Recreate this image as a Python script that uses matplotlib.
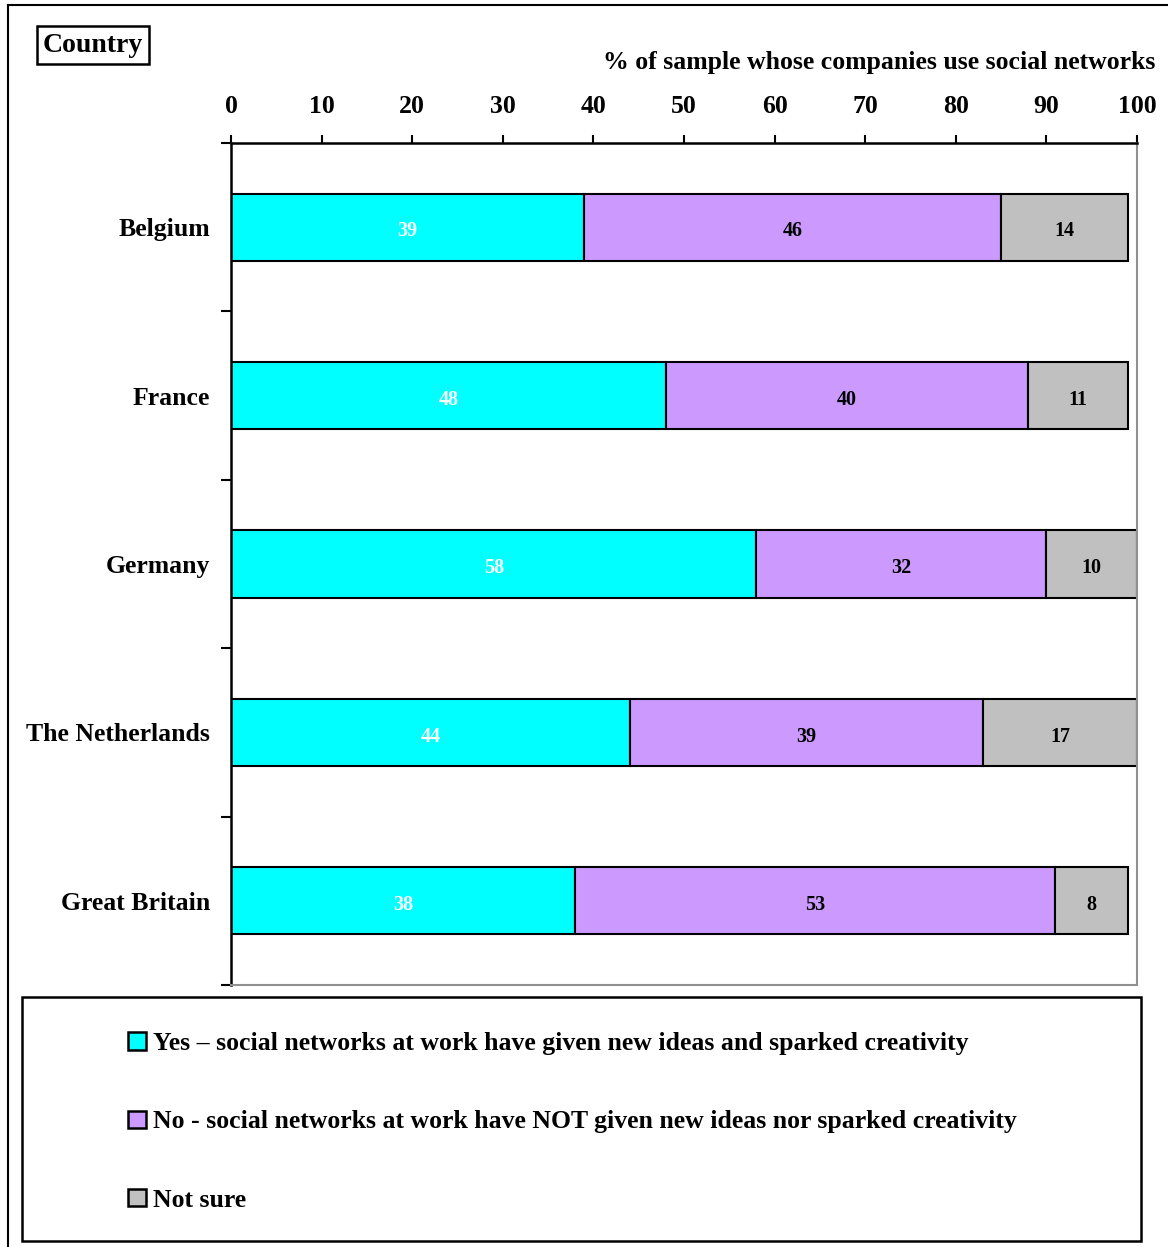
import numpy as np
import matplotlib.pyplot as plt
from matplotlib.patches import Rectangle, Patch
from matplotlib.lines import Line2D

plt.rcParams['font.family'] = ['Liberation Serif', 'DejaVu Serif']
plt.rcParams['font.weight'] = 'bold'

countries = ['Belgium', 'France', 'Germany', 'The Netherlands', 'Great Britain']
yes_vals = [39, 48, 58, 44, 38]
no_vals = [46, 40, 32, 39, 53]
unsure_vals = [14, 11, 10, 17, 8]
x_ticks = list(range(0, 101, 10))

series_names = ['Yes \u2013 social networks at work have given new ideas and sparked creativity',
                'No - social networks at work have NOT given new ideas nor sparked creativity',
                'Not sure']
colors = ['#00FFFF', '#CC99FF', '#C0C0C0']
text_colors = ['white', 'black', 'black']

W, H = 1168, 1247
fig = plt.figure(figsize=(W / 100, H / 100), dpi=100)
ax = fig.add_axes([231 / W, 1 - 985 / H, 906 / W, 842 / H])

y = np.arange(len(countries))
left = np.zeros(len(countries))
for vals, col, tcol in zip([yes_vals, no_vals, unsure_vals], colors, text_colors):
    vals = np.array(vals, dtype=float)
    bars = ax.barh(y, vals, left=left, height=0.4, color=col,
                   edgecolor='black', linewidth=1.5)
    for b, v in zip(bars, vals):
        ax.text(b.get_x() + b.get_width() / 2, b.get_y() + b.get_height() / 2 + 0.025,
                f'{v:.0f}', ha='center', va='center', fontsize=14.5,
                color=tcol, fontweight='bold')
    left += vals

ax.set_xlim(0, 100)
ax.set_ylim(len(countries) - 0.5, -0.5)
ax.xaxis.tick_top()
ax.set_xticks(x_ticks)
ax.tick_params(axis='x', direction='out', length=6, width=1.5, pad=12, labelsize=18.5)
ax.set_yticks(y)
ax.set_yticklabels(countries)
ax.set_yticks(np.arange(-0.5, len(countries)), minor=True)
ax.tick_params(axis='y', which='major', length=0, pad=15, labelsize=18.5)
ax.tick_params(axis='y', which='minor', direction='out', length=7, width=1.5)
for lab in ax.get_xticklabels() + ax.get_yticklabels():
    lab.set_fontweight('bold')

for s in ['left', 'top']:
    ax.spines[s].set_linewidth(1.8)
    ax.spines[s].set_color('black')
for s in ['right', 'bottom']:
    ax.spines[s].set_linewidth(1.5)
    ax.spines[s].set_color('#909090')

# axis title and category box
fig.text(1155 / W, 1 - 62 / H, '% of sample whose companies use social networks',
         ha='right', va='center', fontsize=18.5, fontweight='bold')
fig.text(93 / W, 1 - 45 / H, 'Country', ha='center', va='center', fontsize=20,
         fontweight='bold',
         bbox=dict(boxstyle='square,pad=0.22', facecolor='white', edgecolor='black', linewidth=1.8))

# outer frame
fig.add_artist(Line2D([8 / W, 8 / W], [0, 1 - 5 / H], transform=fig.transFigure,
                      color='black', linewidth=1.5))
fig.add_artist(Line2D([8 / W, 1], [1 - 5 / H, 1 - 5 / H], transform=fig.transFigure,
                      color='black', linewidth=1.5))

# legend box
fig.add_artist(Rectangle((22 / W, 1 - 1241 / H), (1141 - 22) / W, (1241 - 997) / H,
                         transform=fig.transFigure, facecolor='none',
                         edgecolor='black', linewidth=1.8))
handles = [Patch(facecolor=c, edgecolor='black', linewidth=1.8) for c in colors]
fig.legend(handles, series_names, loc='upper left',
           bbox_to_anchor=(105 / W, 1 - 1009 / H), frameon=False,
           handlelength=0.68, handleheight=0.68, handletextpad=0.27,
           labelspacing=2.15, prop={'weight': 'bold', 'size': 18.5})

fig.savefig('out.png', dpi=100)
